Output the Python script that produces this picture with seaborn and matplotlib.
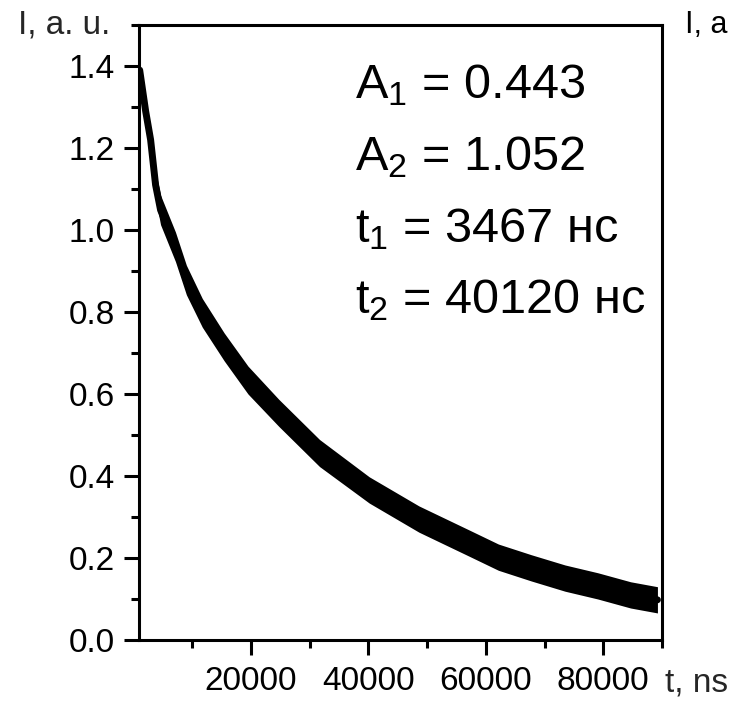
import numpy as np
import pandas as pd
import matplotlib
matplotlib.use("Agg")
import matplotlib.pyplot as plt
from matplotlib.ticker import MultipleLocator
import seaborn as sns

# ---- data ----
t_ns = [1066, 2081, 2927, 3773, 4619, 7157, 9019, 11726, 15448, 19509,
        24755, 31692, 40152, 48613, 57073, 62149, 67733, 73486, 79069,
        84653, 89222]
intensity = [1.390, 1.290, 1.220, 1.110, 1.049, 0.959, 0.878, 0.798, 0.715,
             0.634, 0.554, 0.456, 0.366, 0.295, 0.237, 0.202, 0.176, 0.151,
             0.132, 0.110, 0.098]
noise_halfwidth = [0.015, 0.024, 0.030, 0.034, 0.036, 0.036, 0.036, 0.035,
                   0.034, 0.034, 0.033, 0.033, 0.032, 0.032, 0.032, 0.032,
                   0.032, 0.032, 0.032, 0.032, 0.032]
fit_lines = [r"A$_{1}$ = 0.443", r"A$_{2}$ = 1.052",
             r"t$_{1}$ = 3467 нс", r"t$_{2}$ = 40120 нс"]
x_major = [20000, 40000, 60000, 80000]
y_major = [0.0, 0.2, 0.4, 0.6, 0.8, 1.0, 1.2, 1.4]

df = pd.DataFrame({"t": t_ns, "I": intensity, "hw": noise_halfwidth})

sns.set_style("ticks")
plt.rcParams["font.family"] = ["Liberation Sans", "DejaVu Sans"]
plt.rcParams["mathtext.fontset"] = "custom"
plt.rcParams["mathtext.rm"] = "Liberation Sans"
plt.rcParams["mathtext.default"] = "regular"

W, H = 731, 701
fig = plt.figure(figsize=(W / 100, H / 100), dpi=100)
ax = fig.add_axes([139 / W, 1 - 640 / H, (662 - 139) / W, (640 - 25) / H])

ax.fill_between(df["t"], df["I"] - df["hw"], df["I"] + df["hw"],
                color="black", linewidth=0)
sns.lineplot(data=df, x="t", y="I", ax=ax, color="black", linewidth=5)

ax.set_xlim(950, 90000)
ax.set_ylim(0, 1.5)
ax.set_xticks(x_major)
ax.set_xticklabels([str(v) for v in x_major])
ax.set_yticks(y_major)
ax.set_yticklabels([f"{v:.1f}" for v in y_major])
ax.xaxis.set_minor_locator(MultipleLocator(10000))
ax.yaxis.set_minor_locator(MultipleLocator(0.1))

for s in ax.spines.values():
    s.set_visible(True)
    s.set_linewidth(2.2)
    s.set_color("black")

TS = 24
ax.tick_params(axis="both", which="major", direction="out", length=10.5,
               width=2.2, labelsize=TS, color="black", labelcolor="black")
ax.tick_params(axis="both", which="minor", direction="out", length=5.5,
               width=2.2, color="black")
ax.tick_params(axis="y", which="both", pad=7, left=True, right=False)
ax.tick_params(axis="x", which="both", pad=8, bottom=True, top=False)

ax.set_ylabel("I, a. u.", rotation=0, ha="right", va="center", fontsize=TS)
ax.yaxis.set_label_coords((110 - 139) / (662 - 139), 1.0)
ax.set_xlabel("t, ns", ha="left", va="center", fontsize=TS)
ax.xaxis.set_label_coords((665 - 139) / (662 - 139), -(683 - 640) / (640 - 25))

baselines = [98, 170, 242, 313]
for line, yb in zip(fit_lines, baselines):
    fig.text(355 / W, 1 - yb / H, line, fontsize=35, ha="left",
             va="baseline", color="black")

fig.text(685 / W, 1 - 25 / H, "I, a", fontsize=22, ha="left",
         va="center", color="black")

fig.savefig("out.png", dpi=100)
